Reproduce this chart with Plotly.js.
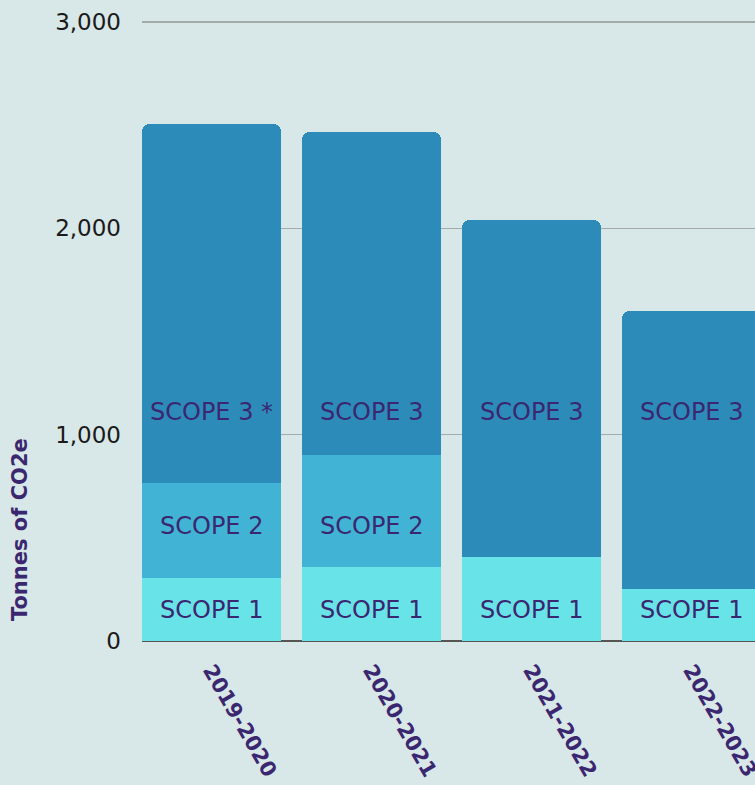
<!DOCTYPE html>
<html>
<head>
<meta charset="utf-8">
<script src="https://cdn.plot.ly/plotly-3.0.1.min.js"></script>
<style>html,body{margin:0;padding:0;background:#d8e7e7;}#chart{width:755px;height:785px;}</style>
</head>
<body>
<div id="chart"></div>
<script>
const years = ["2019-2020", "2020-2021", "2021-2022", "2022-2023"];
const scope1 = [305, 359, 407, 252];
const scope2 = [461, 543, 0, 0];
const scope3 = [1740, 1565, 1634, 1348];
const scope3Labels = ["SCOPE 3 *", "SCOPE 3", "SCOPE 3", "SCOPE 3"];
const scope1Label = "SCOPE 1";
const scope2Label = "SCOPE 2";
const yTitle = "Tonnes of CO2e";

const purple = "#3b2770";
const labelFont = {family: "'DejaVu Sans', sans-serif", size: 24, color: purple};

const traces = [
  {type: "bar", x: years, y: scope1, name: "Scope 1", marker: {color: "#68e4e9"}, hoverinfo: "y"},
  {type: "bar", x: years, y: scope2, name: "Scope 2", marker: {color: "#41b4d5"}, hoverinfo: "y"},
  {type: "bar", x: years, y: scope3, name: "Scope 3", marker: {color: "#2d8bba"}, hoverinfo: "y"}
];

const annotations = [];
years.forEach((yr, i) => {
  annotations.push({x: yr, y: 150, text: scope1Label, showarrow: false, font: labelFont, yanchor: "middle"});
  if (scope2[i] > 0) {
    annotations.push({x: yr, y: 557, text: scope2Label, showarrow: false, font: labelFont, yanchor: "middle"});
  }
  annotations.push({x: yr, y: 1110, text: scope3Labels[i], showarrow: false, font: labelFont, yanchor: "middle"});
});
annotations.push({
  xref: "paper", yref: "paper", x: -0.199, y: 0.178, text: "<b>" + yTitle + "</b>",
  textangle: -90, showarrow: false, xanchor: "center", yanchor: "middle",
  font: {family: "'DejaVu Sans', sans-serif", size: 21, color: purple}
});

const layout = {
  width: 755, height: 785,
  margin: {l: 142, r: 0, t: 18, b: 144},
  paper_bgcolor: "#d8e7e7", plot_bgcolor: "#d8e7e7",
  barmode: "stack", bargap: 0.13, barcornerradius: 8,
  showlegend: false,
  xaxis: {
    type: "category", range: [-0.434, 3.397], tickangle: 60,
    showgrid: false, ticks: "", showline: false, ticklabelstandoff: 12,
    tickfont: {family: "'DejaVu Sans', sans-serif", size: 21, color: purple, weight: 700}
  },
  yaxis: {
    range: [0, 3019.4], tickvals: [0, 1000, 2000, 3000], tickformat: ",",
    gridcolor: "#a3abab", gridwidth: 1.5,
    zeroline: true, zerolinecolor: "#555", zerolinewidth: 2,
    ticks: "", ticklabelstandoff: 20,
    tickfont: {family: "'DejaVu Sans', sans-serif", size: 23, color: "#1a1a1a"}
  },
  annotations: annotations
};

Plotly.newPlot("chart", traces, layout, {displayModeBar: false, staticPlot: true});
</script>
</body>
</html>
